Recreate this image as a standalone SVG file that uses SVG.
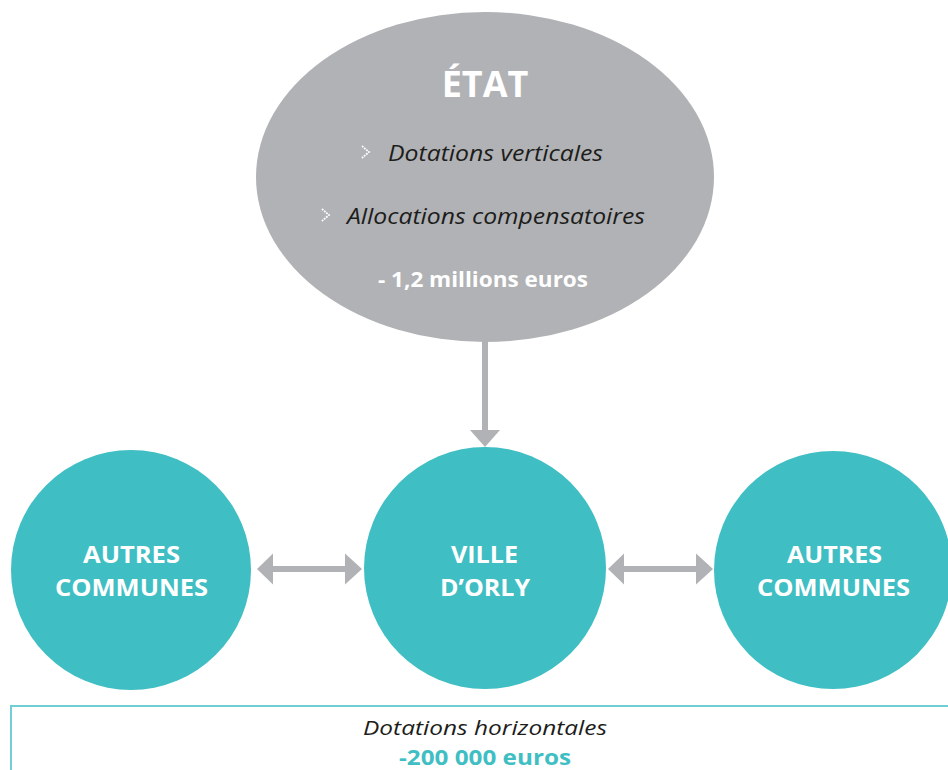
<svg xmlns="http://www.w3.org/2000/svg" width="948" height="770" viewBox="0 0 948 770">
<defs>
<style>
.gray{fill:#b1b2b5}
.teal{fill:#3fbec3}
.conn{stroke:#b1b2b5;stroke-width:6;fill:none}
.head{fill:#b1b2b5}
.t{font-family:"Open Sans","Noto Sans",sans-serif;text-anchor:middle}
.big{font-size:36px;font-weight:700;fill:#fff}
.it{font-size:22px;font-style:italic;fill:#1d1d1b}
.bw{font-size:21px;font-weight:700;fill:#fff}
.cw{font-size:24px;font-weight:700;fill:#fff}
.chev{stroke:#fff;stroke-width:1.8;fill:none;stroke-dasharray:1.8 1}
</style>
</defs>
<rect width="948" height="770" fill="#fff"/>
<g id="etat">
<ellipse class="gray" cx="485" cy="177" rx="229" ry="165"/>
<text class="t big" x="485" y="97">ÉTAT</text>
<path class="chev" d="M362 146 L369 152 L362 158"/>
<text class="t it" x="495.5" y="161" textLength="215" lengthAdjust="spacingAndGlyphs">Dotations verticales</text>
<path class="chev" d="M322 209 L329 215 L322 221"/>
<text class="t it" x="496" y="224" textLength="298" lengthAdjust="spacingAndGlyphs">Allocations compensatoires</text>
<text class="t bw" x="483" y="287" textLength="210" lengthAdjust="spacingAndGlyphs">- 1,2 millions euros</text>
</g>
<g id="autres-gauche">
<circle class="teal" cx="131" cy="570" r="120"/>
<text class="t cw" x="131.5" y="563" textLength="97" lengthAdjust="spacingAndGlyphs">AUTRES</text>
<text class="t cw" x="131.5" y="596" textLength="153" lengthAdjust="spacingAndGlyphs">COMMUNES</text>
</g>
<g id="ville-orly">
<circle class="teal" cx="485" cy="568" r="121"/>
<text class="t cw" x="484.5" y="563" textLength="67" lengthAdjust="spacingAndGlyphs">VILLE</text>
<text class="t cw" x="485" y="596" textLength="90" lengthAdjust="spacingAndGlyphs">D’ORLY</text>
</g>
<g id="autres-droite">
<circle class="teal" cx="833" cy="570" r="119"/>
<text class="t cw" x="834.5" y="563" textLength="95" lengthAdjust="spacingAndGlyphs">AUTRES</text>
<text class="t cw" x="833.5" y="596" textLength="153" lengthAdjust="spacingAndGlyphs">COMMUNES</text>
</g>
<g id="dotations-horizontales">
<rect x="11" y="706" width="950" height="80" fill="none" stroke="#6fcfd2" stroke-width="2"/>
<text class="t" x="485" y="735" style="font-size:20px;font-style:italic;fill:#1d1d1b" textLength="244" lengthAdjust="spacingAndGlyphs">Dotations horizontales</text>
<text class="t" x="485" y="765" style="font-size:21px;font-weight:700;fill:#3fbec3" textLength="172" lengthAdjust="spacingAndGlyphs">-200 000 euros</text>
</g>
<g id="connectors">
<line class="conn" x1="485" y1="340" x2="485" y2="432"/>
<polygon class="head" points="470,430 500,430 485,447"/>
<line class="conn" x1="272" y1="569" x2="346" y2="569"/>
<polygon class="head" points="257,569 273,553.5 273,584.5"/>
<polygon class="head" points="362,569 345,553.5 345,584.5"/>
<line class="conn" x1="623" y1="569" x2="697" y2="569"/>
<polygon class="head" points="608,569 624,553.5 624,584.5"/>
<polygon class="head" points="713,569 696,553.5 696,584.5"/>
</g>
</svg>
